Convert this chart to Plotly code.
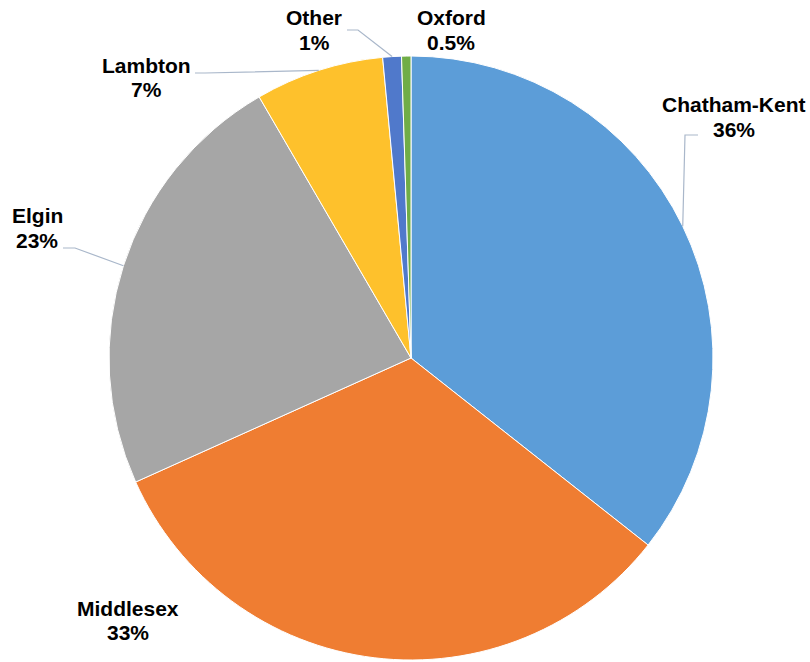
import math
import plotly.graph_objects as go

# ---- data ----
regions = ["Chatham-Kent", "Middlesex", "Elgin", "Lambton", "Other", "Oxford"]
shares = [35.7, 32.7, 23.4, 6.9, 1.0, 0.5]
pct_labels = ["36%", "33%", "23%", "7%", "1%", "0.5%"]
colors = ["#5C9DD8", "#EF7D32", "#A6A6A6", "#FEC12C", "#5079CB", "#70AD47"]

W, H = 810, 662
CX, CY, R = 411, 358, 302  # pie centre / radius in pixels

# label line centres (pixels): x, y of first line, y of second line
label_pos = {
    "Chatham-Kent": (734, 104, 129),
    "Middlesex": (128, 608, 632),
    "Elgin": (37, 216, 240),
    "Lambton": (146, 66, 90),
    "Other": (314, 18, 42),
    "Oxford": (451, 18, 42),
}
leader_start = {
    "Chatham-Kent": [(698, 135), (685, 135)],
    "Elgin": [(63, 248), (75, 248)],
    "Lambton": [(195, 73), (205, 73)],
    "Other": [(347, 30), (358, 30)],
}


def px(x):
    return x / W


def py(y):
    return 1 - y / H


fig = go.Figure(
    go.Pie(
        labels=regions,
        values=shares,
        sort=False,
        direction="clockwise",
        rotation=0,
        textinfo="none",
        hoverinfo="label+percent",
        marker=dict(colors=colors, line=dict(color="white", width=1)),
        domain=dict(x=[px(CX - R), px(CX + R)], y=[py(CY + R), py(CY - R)]),
        showlegend=False,
    )
)

total = sum(shares)
cum = 0.0
shapes = []
annotations = []
font = dict(family="Liberation Sans, Arial, sans-serif", size=21, color="#000000")
for name, v, pct in zip(regions, shares, pct_labels):
    mid = (cum + v / 2) / total * 2 * math.pi
    cum += v
    ex = CX + R * math.sin(mid)
    ey = CY - R * math.cos(mid)
    if name in leader_start:
        pts = leader_start[name] + [(ex, ey)]
        path = "M " + " L ".join(f"{px(x):.5f},{py(y):.5f}" for x, y in pts)
        shapes.append(
            dict(type="path", path=path, xref="paper", yref="paper",
                 line=dict(color="#A9B7CA", width=1.2))
        )
    lx, ly1, ly2 = label_pos[name]
    for txt, ly in ((name, ly1), (pct, ly2)):
        annotations.append(
            dict(x=px(lx), y=py(ly), xref="paper", yref="paper",
                 text=f"<b>{txt}</b>", showarrow=False,
                 xanchor="center", yanchor="middle", align="center",
                 font=font)
        )

fig.update_layout(
    width=W, height=H,
    margin=dict(l=0, r=0, t=0, b=0),
    paper_bgcolor="white",
    plot_bgcolor="white",
    shapes=shapes,
    annotations=annotations,
)

fig.write_html(
    "out.html",
    config={"displayModeBar": False},
    post_script="document.body.style.margin='0px';document.body.style.overflow='hidden';",
)
